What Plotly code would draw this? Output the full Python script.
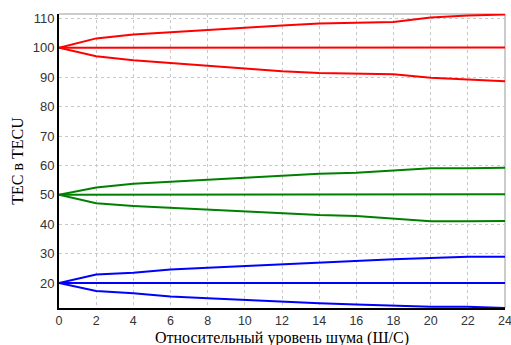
import plotly.graph_objects as go

x = [0, 2, 4, 6, 8, 10, 12, 14, 16, 18, 20, 22, 24]

red_upper = [100, 103.2, 104.5, 105.3, 106.0, 107.0, 107.6, 108.3, 108.6, 108.75, 110.3, 111.0, 111.3]
red_mid = [100, 100, 100, 100, 100, 100, 100, 100, 100, 100, 100.1, 100.2, 100.1]
red_lower = [100, 97.1, 95.8, 94.8, 94.0, 93.0, 92.0, 91.4, 91.3, 91.0, 89.8, 89.2, 88.6]

green_upper = [50, 52.5, 53.8, 54.5, 55.2, 55.9, 56.5, 57.2, 57.5, 58.2, 59.0, 59.0, 59.2]
green_mid = [50, 50, 50, 50, 50, 50, 50, 50, 50, 50, 50, 50, 50.2]
green_lower = [50, 47.1, 46.2, 45.6, 44.8, 44.3, 43.7, 43.1, 42.8, 41.8, 41.0, 41.0, 41.1]

blue_upper = [20, 22.9, 23.5, 24.6, 25.2, 25.8, 26.4, 27.0, 27.6, 28.1, 28.5, 28.9, 28.9]
blue_mid = [20, 20, 20, 20, 20, 20, 20, 20, 20, 20, 20, 20, 20]
blue_lower = [20, 17.3, 16.5, 15.4, 14.8, 14.2, 13.7, 13.1, 12.7, 12.2, 11.9, 11.9, 11.5]

x_title = "Относительный уровень шума (Ш/С)"
y_title = "TEC в TECU"

series = [
    (red_upper, "#ff0000"), (red_mid, "#ff0000"), (red_lower, "#ff0000"),
    (green_upper, "#008000"), (green_mid, "#008000"), (green_lower, "#008000"),
    (blue_upper, "#0000ff"), (blue_mid, "#0000ff"), (blue_lower, "#0000ff"),
]

x_ticks = list(range(0, 25, 2))
y_ticks = list(range(20, 111, 10))

fig = go.Figure()
for vals, col in series:
    fig.add_trace(go.Scatter(x=x, y=vals, mode="lines",
                             line=dict(color=col, width=2), showlegend=False))

tick_font = dict(family="Liberation Sans, Arial, sans-serif", size=13, color="#333333")
xtick_font = dict(family="Liberation Sans, Arial, sans-serif", size=12.5, color="#333333")
xtitle_font = dict(family="Liberation Serif, Times New Roman, serif", size=16, color="#000000")
ytitle_font = dict(family="Liberation Serif, Times New Roman, serif", size=16, color="#000000")

fig.update_layout(
    width=511, height=345,
    margin=dict(l=59, r=6, t=14, b=37),
    paper_bgcolor="white", plot_bgcolor="white",
    xaxis=dict(range=[0, 24], tickvals=x_ticks, ticktext=[str(v) for v in x_ticks],
               showgrid=True, gridcolor="#c8c8c8", griddash="dot", gridwidth=1,
               showline=True, linecolor="black", linewidth=2, zeroline=False,
               ticks="", tickfont=xtick_font, automargin=False,
               ticklabeloverflow="allow"),
    yaxis=dict(range=[11.5, 111.5], tickvals=y_ticks, ticktext=[str(v) for v in y_ticks],
               showgrid=True, gridcolor="#c8c8c8", griddash="dot", gridwidth=1,
               showline=True, linecolor="black", linewidth=2, zeroline=False,
               ticks="", tickfont=tick_font, automargin=False,
               ticklabeloverflow="allow",
               title=dict(text=y_title, font=ytitle_font, standoff=5)),
)

fig.add_annotation(text=x_title, xref="paper", yref="paper", x=0.5, y=-0.102,
                   xanchor="center", yanchor="middle", showarrow=False,
                   font=xtitle_font)

fig.add_shape(type="line", xref="paper", yref="paper", x0=0, x1=1, y0=1, y1=1,
              line=dict(color="#999999", width=1), layer="below")
fig.add_shape(type="line", xref="paper", yref="paper", x0=1, x1=1, y0=0, y1=1,
              line=dict(color="#999999", width=1), layer="below")

fig.write_html("out.html", config={"displayModeBar": False},
               post_script="document.body.style.margin='0';document.body.style.padding='0';")
